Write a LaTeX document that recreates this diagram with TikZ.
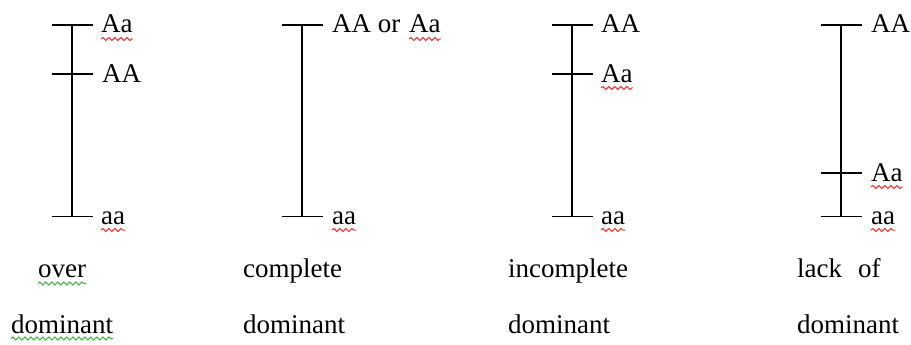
\documentclass[tikz,border=0pt]{standalone}
\usepackage{fontspec}
\setmainfont{Liberation Serif}
\usetikzlibrary{decorations.pathmorphing,calc}
\definecolor{squigred}{RGB}{245,50,50}
\definecolor{squiggreen}{RGB}{70,175,70}
\tikzset{
  lbl/.style={anchor=base west,inner sep=0pt,font=\fontsize{27}{30}\selectfont},
  bar/.style={line width=1.5pt,black},
  wavy/.style={decorate,decoration={snake,amplitude=1.6pt,segment length=6pt},line width=1pt},
  redwave/.style={wavy,draw=squigred},
  greenwave/.style={wavy,draw=squiggreen},
}
\newcommand\squig[2]{\draw[#1] ($(#2.base west)+(0,6)$) -- ($(#2.base east)+(0,6)$);}
\newcommand\tick[1]{\draw[bar] ($(#1)+(-20.5,0)$) -- ($(#1)+(20.5,0)$);}
\begin{document}
\begin{tikzpicture}[x=1pt,y=-1pt]
\useasboundingbox (0,0) rectangle (911,345);
% ---------- column 1: over dominant
\coordinate (t1a) at (72,25);
\coordinate (t1b) at (72,74);
\coordinate (t1c) at (72,216.5);
\draw[bar] (t1a) -- (t1c);
\tick{t1a}\tick{t1b}\tick{t1c}
\node[lbl] (l1a) at (101,33) {Aa};
\node[lbl] (l1b) at (102,82) {AA};
\node[lbl] (l1c) at (101,224) {aa};
\squig{redwave}{l1a}
\squig{redwave}{l1c}
% ---------- column 2: complete dominant
\coordinate (t2a) at (302,25);
\coordinate (t2c) at (302,216.5);
\draw[bar] (t2a) -- (t2c);
\tick{t2a}\tick{t2c}
\node[lbl] (l2a) at (332,33) {AA or};
\node[lbl] (l2b) at (409,33) {Aa};
\node[lbl] (l2c) at (332,224) {aa};
\squig{redwave}{l2b}
\squig{redwave}{l2c}
% ---------- column 3: incomplete dominant
\coordinate (t3a) at (572,25);
\coordinate (t3b) at (572,74);
\coordinate (t3c) at (572,216.5);
\draw[bar] (t3a) -- (t3c);
\tick{t3a}\tick{t3b}\tick{t3c}
\node[lbl] (l3a) at (601,33) {AA};
\node[lbl] (l3b) at (601,82) {Aa};
\node[lbl] (l3c) at (601,224) {aa};
\squig{redwave}{l3b}
\squig{redwave}{l3c}
% ---------- column 4: lack of dominant
\coordinate (t4a) at (841,25);
\coordinate (t4b) at (841,173);
\coordinate (t4c) at (841,216.5);
\draw[bar] (t4a) -- (t4c);
\tick{t4a}\tick{t4b}\tick{t4c}
\node[lbl] (l4a) at (871,33) {AA};
\node[lbl] (l4b) at (871,181) {Aa};
\node[lbl] (l4c) at (871,224) {aa};
\squig{redwave}{l4b}
\squig{redwave}{l4c}
% ---------- captions
\node[lbl] (c1a) at (38,277.5) {over};
\node[lbl] (c1b) at (11,333.5) {dominant};
\squig{greenwave}{c1a}
\draw[greenwave] ($(c1b.base west)+(0,5)$) -- ($(c1b.base east)+(0,5)$);
\node[lbl] (c2a) at (243,277.5) {complete};
\node[lbl] (c2b) at (243,333.5) {dominant};
\node[lbl] (c3a) at (508,277.5) {incomplete};
\node[lbl] (c3b) at (508,333.5) {dominant};
\node[lbl] (c4a) at (797,277.5) {lack\hspace{16pt}of};
\node[lbl] (c4b) at (797,333.5) {dominant};
\end{tikzpicture}
\end{document}
